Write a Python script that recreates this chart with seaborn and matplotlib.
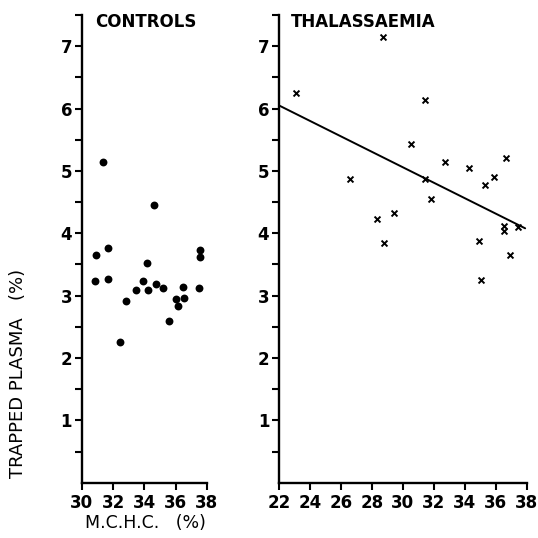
import matplotlib
matplotlib.use("Agg")
import matplotlib.pyplot as plt
from matplotlib.ticker import FixedLocator
import seaborn as sns
import pandas as pd

# controls: M.C.H.C. (%) vs trapped plasma (%)
ctrl_x = [31.35, 30.9, 30.85, 31.7, 31.7, 32.45, 32.85, 33.45, 33.95, 34.2, 34.25,
          34.6, 34.75, 35.2, 35.6, 36.05, 36.15, 36.45, 36.55, 37.55, 37.55, 37.5]
ctrl_y = [5.14, 3.66, 3.24, 3.76, 3.27, 2.26, 2.92, 3.09, 3.24, 3.53, 3.09,
          4.45, 3.19, 3.12, 2.6, 2.94, 2.84, 3.14, 2.96, 3.74, 3.62, 3.12]

# thalassaemia
thal_x = [23.1, 26.6, 28.3, 28.8, 29.4, 28.7, 30.55, 31.45, 31.45, 31.8, 32.75,
          34.25, 34.9, 35.05, 35.3, 35.9, 36.65, 36.55, 36.55, 36.95, 37.45]
thal_y = [6.25, 4.87, 4.23, 3.85, 4.33, 7.15, 5.43, 6.14, 4.87, 4.55, 5.15,
          5.05, 3.88, 3.25, 4.78, 4.9, 5.2, 4.12, 4.03, 3.65, 4.1]

# regression line as drawn
fit_x = [22.0, 37.9]
fit_y = [6.05, 4.08]

ctrl = pd.DataFrame({"mchc": ctrl_x, "tp": ctrl_y})
thal = pd.DataFrame({"mchc": thal_x, "tp": thal_y})
fit = pd.DataFrame({"mchc": fit_x, "tp": fit_y})

sns.set_theme(style="ticks")
plt.rcParams["font.family"] = ["DejaVu Sans"]
plt.rcParams["text.color"] = "black"
plt.rcParams["xtick.color"] = "black"
plt.rcParams["ytick.color"] = "black"

fig = plt.figure(figsize=(5.38, 5.38), dpi=100)
ax1 = fig.add_axes([0.152, 0.1026, 0.2323, 0.8695])
ax2 = fig.add_axes([0.5186, 0.1026, 0.4604, 0.8695])

sns.scatterplot(data=ctrl, x="mchc", y="tp", ax=ax1, color="black", marker="o",
                s=32, edgecolor="black", linewidth=0, clip_on=False)
sns.scatterplot(data=thal, x="mchc", y="tp", ax=ax2, color="black", marker="x",
                s=18, linewidth=1.4, clip_on=False)
sns.lineplot(data=fit, x="mchc", y="tp", ax=ax2, color="black", linewidth=1.4)

ax1.set_xlim(30, 38)
ax1.set_xticks([30, 32, 34, 36, 38])
ax2.set_xlim(22, 38)
ax2.set_xticks(list(range(22, 39, 2)))

for ax in (ax1, ax2):
    ax.set_ylim(0, 7.5)
    ax.set_yticks([1, 2, 3, 4, 5, 6, 7])
    ax.yaxis.set_minor_locator(FixedLocator([0.5, 1.5, 2.5, 3.5, 4.5, 5.5, 6.5, 7.5]))
    ax.set_xlabel("")
    ax.set_ylabel("")
    sns.despine(ax=ax)
    for s in ("left", "bottom"):
        ax.spines[s].set_linewidth(1.7)
        ax.spines[s].set_color("black")
    ax.tick_params(which="both", direction="out", length=5, width=1.5,
                   color="black", labelcolor="black", labelsize=12, pad=2)
    ax.tick_params(axis="x", pad=3)
    for lab in ax.get_xticklabels() + ax.get_yticklabels():
        lab.set_fontweight("bold")

fig.text(95 / 538, 1 - 22 / 538, "CONTROLS", ha="left", va="center",
         fontsize=12, fontweight="bold", color="black")
fig.text(291 / 538, 1 - 22 / 538, "THALASSAEMIA", ha="left", va="center",
         fontsize=12, fontweight="bold", color="black")
fig.text(18 / 538, 1 - 373 / 538, "TRAPPED PLASMA   (%)", rotation=90,
         ha="center", va="center", fontsize=13, color="black")
fig.text(145 / 538, 1 - 523 / 538, "M.C.H.C.   (%)", ha="center", va="center",
         fontsize=12.5, color="black")

fig.savefig("out.png", dpi=100, facecolor="white")
